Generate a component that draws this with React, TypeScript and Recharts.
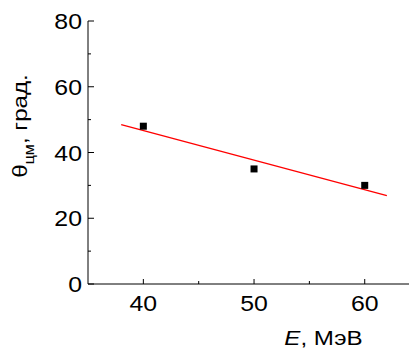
import React from 'react';
import { ComposedChart, Scatter, XAxis, YAxis } from 'recharts';

const energies = [40, 50, 60];
const angles = [48, 35, 30];
const fitX = [38, 62];
const fitY = [48.5, 26.9];
const xTicks = [40, 45, 50, 55, 60];
const yTicks = [0, 10, 20, 30, 40, 50, 60, 70, 80];

const points = energies.map((x, i) => ({ x, y: angles[i] }));
const fitLine = fitX.map((x, i) => ({ x, y: fitY[i] }));

const FONT = '"Liberation Sans", Arial, sans-serif';
const SX = 1.13;

const XTick = (props: any) => {
  const { x, y, payload } = props;
  const v = payload.value;
  const major = v % 10 === 0;
  return (
    <g>
      <line x1={x} y1={y} x2={x} y2={y - (major ? 5 : 3)} stroke="#000" strokeWidth={1} />
      {major && (
        <text
          transform={`translate(${x},${y + 27}) scale(${SX},1)`}
          textAnchor="middle"
          fontSize={22}
          fontFamily={FONT}
          fill="#000"
        >
          {v}
        </text>
      )}
    </g>
  );
};

const YTick = (props: any) => {
  const { x, y, payload } = props;
  const v = payload.value;
  const major = v % 20 === 0;
  return (
    <g>
      <line x1={x} y1={y} x2={x + (major ? 6 : 3)} y2={y} stroke="#000" strokeWidth={1} />
      {major && (
        <text
          transform={`translate(${x - 6},${y + 8}) scale(${SX},1)`}
          textAnchor="end"
          fontSize={22}
          fontFamily={FONT}
          fill="#000"
        >
          {v}
        </text>
      )}
    </g>
  );
};

const SquareMarker = (props: any) => {
  const { cx, cy } = props;
  if (cx == null || cy == null) return <g />;
  return <rect x={cx - 3.5} y={cy - 3.5} width={7} height={7} fill="#000" />;
};

const NoMarker = () => <g />;

const XLabel = () => (
  <text
    transform={`translate(323.5,345) scale(1.15,1)`}
    textAnchor="middle"
    fontSize={21}
    fontFamily={FONT}
    fill="#000"
  >
    <tspan fontStyle="italic">E</tspan>
    <tspan>, МэВ</tspan>
  </text>
);

const YLabel = () => (
  <text
    transform={`translate(27,126) rotate(-90) scale(1.15,1)`}
    textAnchor="middle"
    fontSize={21}
    fontFamily={FONT}
    fill="#000"
  >
    <tspan>θ</tspan>
    <tspan fontSize={14} dy={7}>цм</tspan>
    <tspan dy={-7}>, град.</tspan>
  </text>
);

export default function App() {
  return (
    <div style={{ position: 'absolute', left: 0, top: 0, width: 409, height: 351, background: '#fff' }}>
      <ComposedChart
        width={409}
        height={351}
        margin={{ top: 21, right: 0, left: 0, bottom: 0 }}
      >
        <XAxis
          type="number"
          dataKey="x"
          domain={[35, 64]}
          ticks={xTicks}
          allowDataOverflow
          height={67}
          tickSize={0}
          tickMargin={0}
          tickLine={false}
          tick={<XTick />}
          axisLine={{ stroke: '#000', strokeWidth: 1 }}
          label={<XLabel />}
        />
        <YAxis
          type="number"
          dataKey="y"
          domain={[0, 80]}
          ticks={yTicks}
          allowDataOverflow
          width={88}
          tickSize={0}
          tickMargin={0}
          tickLine={false}
          tick={<YTick />}
          axisLine={{ stroke: '#000', strokeWidth: 1 }}
          label={<YLabel />}
        />
        <Scatter
          data={fitLine}
          line={{ stroke: '#ff0000', strokeWidth: 1.4 }}
          shape={<NoMarker />}
          isAnimationActive={false}
        />
        <Scatter
          data={points}
          fill="#000"
          shape={<SquareMarker />}
          isAnimationActive={false}
        />
      </ComposedChart>
    </div>
  );
}
